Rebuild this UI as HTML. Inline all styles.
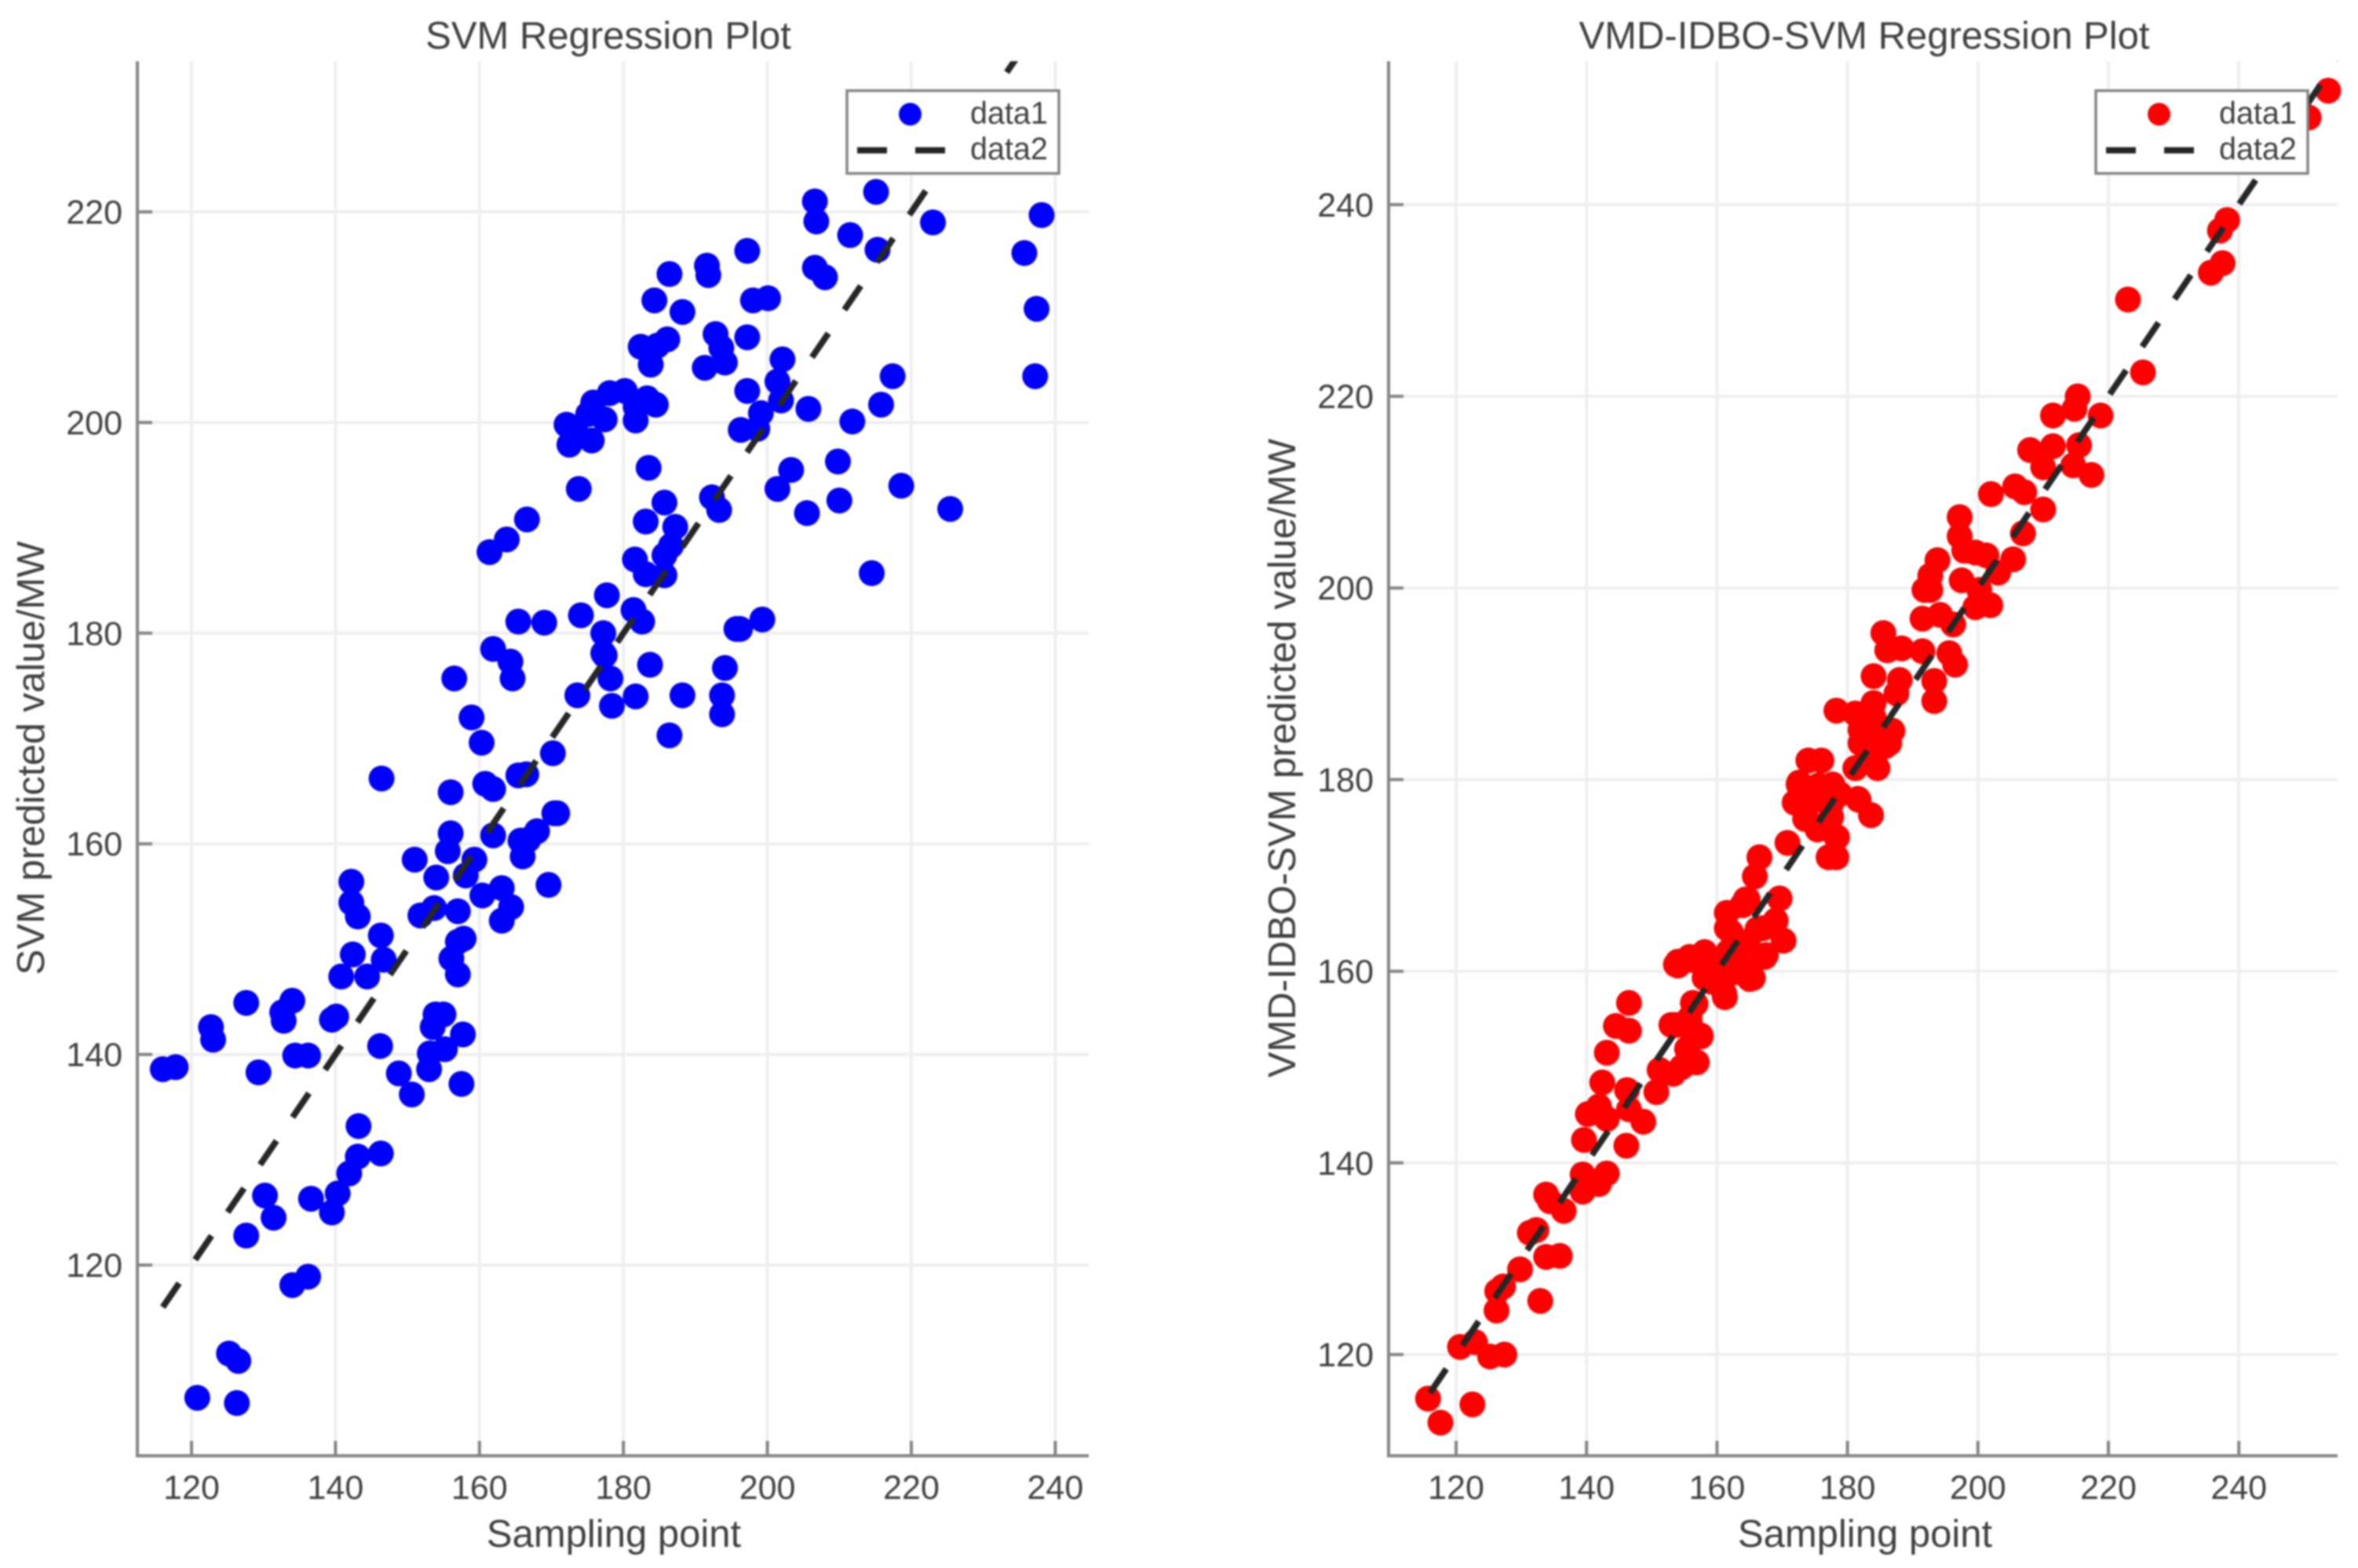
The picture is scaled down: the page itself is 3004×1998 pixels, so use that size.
<!DOCTYPE html>
<html lang="en">
<head>
<meta charset="utf-8">
<title>SVM and VMD-IDBO-SVM Regression Plots</title>
<style>
html,body{margin:0;padding:0;background:#fff;width:3004px;height:1998px;overflow:hidden}
svg{display:block;font-family:"Liberation Sans",Arial,sans-serif;filter:blur(1px)}
text{fill:#404040}
</style>
</head>
<body>
<svg id="figure" xmlns="http://www.w3.org/2000/svg" width="3004" height="1998" viewBox="0 0 3004 1998">
<defs>
<clipPath id="clip-left"><rect x="175" y="78" width="1212" height="1777"/></clipPath>
<clipPath id="clip-right"><rect x="1769" y="78" width="1209" height="1777"/></clipPath>
</defs>
<rect width="3004" height="1998" fill="#fff"/>
<g id="panel-left"></g>
<g id="panel-right"></g>
</svg>
<script>
const svmX = [206.6,206.8,215.1,223,238.1,211.5,215.3,235.7,197.2,206.6,208,191.6,191.8,186.4,184.3,188.2,198,200.1,237.4,182.4,186.1,184.7,183.8,192.8,193.6,194.1,191.3,197.2,202.1,201.4,201.9,217.4,237.2,197.2,180.2,178.1,175.8,175.1,177.4,181.7,181.7,183.3,184.5,172.1,173.3,172.5,175.6,199.1,196.3,198.6,205.7,211.8,215.8,183.5,203.3,209.8,173.8,201.4,218.6,185.7,192.3,193.3,210,205.5,225.4,183.1,187.2,166.6,163.8,161.4,186.6,185.7,185.7,181.6,183.1,214.5,177.7,181.4,182.6,174.1,165.4,169,177.2,199.3,195.7,196.2,161.9,164.3,164.6,156.5,177.2,177.4,178.2,183.7,194.1,173.6,181.7,188.2,193.7,193.7,178.4,158.9,160.3,186.4,170.2,146.4,156,161.9,160.8,165.4,166.5,156,155.6,161.9,151,159.3,158.1,154,170.4,170.8,168,165.7,166.8,166,169.6,142.2,142.2,143.1,160.4,163.1,164.4,163.1,153.7,151.8,157,146.3,157.8,157,142.4,146.7,156.1,140.8,144.4,157,127.6,134,132.6,132.8,122.7,123,140.1,139.5,153.9,155,153.5,157.7,146.2,153.1,155.2,134.4,136.2,116,117.8,129.3,148.8,153,150.6,157.5,143.2,143.1,146.3,141.9,130.2,136.6,140.3,139.5,131.4,127.6,134,136.2,125.2,126.5,120.8,126.3];
const svmY = [221,219.1,221.9,219,219.7,217.8,216.4,216.1,216.3,214.7,213.8,214.9,214,214.1,211.6,210.5,211.6,211.8,210.8,207.2,207.9,207.3,205.5,208.4,207.1,205.7,205.2,208.1,206,203.9,202.1,204.4,204.4,203,203,202.8,201.9,200.8,200.3,201.5,200.2,202.3,201.7,199.8,199.3,197.9,198.3,200.9,199.3,199.4,201.3,200.1,201.7,195.7,195.5,196.3,193.7,193.7,194,192.4,192.9,191.7,192.6,191.4,191.8,190.6,190.1,190.8,188.9,187.7,188.3,187.4,185.5,187,185.6,185.7,183.6,182.2,181.1,181.7,181.1,181,180,181.3,180.4,180.4,178.5,177.3,175.7,175.7,178.1,177.9,175.7,177,176.7,174.1,174,174.1,174.1,172.3,173.1,172,169.6,170.3,168.6,166.2,164.9,165.2,165.7,166.5,166.6,161,159.3,160.8,158.5,158.5,157,156.8,162.9,162.9,161.2,160.3,160.4,158.8,156.1,156.4,154.4,153.1,155.1,155.8,154,152.7,153.9,153.2,153.6,151.3,151,150.7,149.5,149,149.1,147.4,147.4,147.6,144.9,145.1,144,143.2,142.6,141.4,143.6,143.3,143.8,143.8,142.6,141.9,140.8,140.1,140.5,139.9,139.9,138.6,138.8,138.3,138.2,138.6,136.2,137.2,133.2,130.3,130.6,128.7,126.6,126.3,126.8,125,124.5,122.8,118.1,118.9,111.6,110.9,107.4,106.9];
const hybridX = [253.7,250.7,238.2,237.1,237.5,235.7,223,225.3,215.3,214.8,211.5,218.8,215.5,208,211.5,210,214.6,217.4,205.7,207.1,202,210,197.2,206.9,197.2,197.9,201.3,199.6,205.4,193.8,192.7,203.1,197.5,192.7,191.8,200.2,201.9,199.6,191.5,194.2,196.2,185.5,186.1,188.3,191.5,195.6,196.5,193.3,193.3,184,188,187.5,178.3,181.2,184,182.3,186.9,184.6,182.9,185.8,174,176,184.6,181.2,172.5,177.7,181.7,183.6,172.2,176,178.8,173.7,175.4,178.3,177.1,178.3,170.8,166.5,165.8,169.6,164.4,169,161.5,170.2,162.1,166.2,162.7,167.3,158.1,154,153.7,155.8,165,158.1,160.4,162.7,159.2,161.2,164.1,154,146.5,156.7,155.8,144.5,146.5,153,155.8,157.5,143.1,155.4,156.9,154.6,151.2,153.3,142.4,146.2,150.7,141.9,140.2,143.1,146.5,148.7,139.6,146.1,139.4,143.1,141.9,139.4,133.8,134.4,136.5,132.3,131.3,135.9,133.8,129.8,132.9,127.2,126.3,126.2,120.6,122.9,125.2,127.4,115.7,117.6,122.5,182,185.6,182.8,182,186.4,184.8,182.8,184,183.2,172.6,177.8,175.6,171.9,174.4,177.5,173.5,175.6,177.5,178.4,181.6,183.6,163.9,161.5,167.1,164.7,161.7,163.1,158.7,161.1,156.3,158.1,155.9,157.9,155.9,153.7,157.5,164.7,167.5,165.5];
const hybridY = [251.9,249.1,238.4,237.3,233.9,232.9,230.1,222.5,220,218.7,218,218,214.9,214.4,214.8,212.6,212.8,211.8,210.6,210,209.8,208.2,207.4,205.7,205.4,203.9,203.4,203.7,203,202.9,201.3,201.6,200.8,199.8,199.8,199.8,198.2,198,196.8,197.2,196.2,195.3,193.5,193.7,193.4,193.2,192,190.3,188.2,190.8,190.4,189,187.2,186.9,188,185.6,185.1,184.6,183.5,183.5,182,182,181.2,181.2,179.5,179.5,177.9,176.3,177.6,177.9,178.5,175.9,174.8,174,171.9,171.9,173.4,171.9,169.9,167.6,167.5,165.3,166.1,163.2,164.1,164.4,162.3,161.5,162,161,160.7,161.5,159.2,160.2,160.2,159.9,158.9,157.3,160.7,160.6,156.7,156.6,155.1,154.3,153.8,154.4,154,153.2,151.5,151.9,150.5,150,149.7,149.3,148.4,147.6,147.4,145.9,145.1,144.6,145.6,144.3,142.4,141.8,138.8,138.9,137.8,137,136.7,136,135,133,132.7,130.3,130.2,128.9,125.6,127.1,126.6,124.6,120.8,121.3,119.8,120,115.4,112.9,114.8,185.2,185.2,186,183.8,183.8,183.3,184.3,186.5,181.9,179.7,179.2,179.4,177.6,177.8,177.5,175.9,175.1,176.1,174,178,176.3,166.9,164.5,164.5,163.1,162,160.1,159.8,157.7,156.7,159.3,161.2,161.7,154.4,154.4,153.3,167.5,161.7,159.3];
const svmXTicks = [120,140,160,180,200,220,240];
const svmYTicks = [120,140,160,180,200,220];
const hybridXTicks = [120,140,160,180,200,220,240];
const hybridYTicks = [120,140,160,180,200,220,240];
const referenceLine = [116,255];
const legendLabels = ['data1','data2'];

const NS = 'http://www.w3.org/2000/svg';
const TOP = 78, BOTTOM = 1855;
const AXIS = '#858585', GRID = '#efefef', DASH = '#262626';

function make(parent, tag, props, text) {
  const el = document.createElementNS(NS, tag);
  for (const k in props) el.setAttribute(k, props[k]);
  if (text !== undefined) el.textContent = text;
  parent.appendChild(el);
  return el;
}

function drawPanel(c) {
  const root = document.getElementById(c.id);
  const sx = v => c.x0 + (v - 120) * c.kx;
  const sy = v => c.y120 - (v - 120) * c.ky;

  c.yTicks.forEach(v => {
    const g = make(root, 'line', {x1: c.left, x2: c.right, y1: sy(v), y2: sy(v), stroke: GRID, 'stroke-width': 4});
    
    
  });
  c.xTicks.forEach(v => {
    const g = make(root, 'line', {x1: sx(v), x2: sx(v), y1: TOP, y2: BOTTOM, stroke: GRID, 'stroke-width': 4});
    
    
  });

  c.px.forEach((v, i) => {
    const p = make(root, 'circle', {cx: sx(v), cy: sy(c.py[i]), r: 16.5, fill: c.color});
    
    
  });

  const fit = make(root, 'line', {
    x1: sx(referenceLine[0]), y1: sy(referenceLine[0]),
    x2: sx(referenceLine[1]), y2: sy(referenceLine[1]),
    stroke: DASH, 'stroke-width': 8, 'stroke-dasharray': '37 36.3',
    'clip-path': 'url(#' + c.clip + ')'
  });
  
  

  const xAxis = make(root, 'line', {x1: c.left - 2, x2: c.right, y1: BOTTOM, y2: BOTTOM, stroke: AXIS, 'stroke-width': 4});
  
  
  const yAxis = make(root, 'line', {x1: c.left, x2: c.left, y1: TOP, y2: BOTTOM, stroke: AXIS, 'stroke-width': 4});
  
  

  c.xTicks.forEach(v => {
    const t = make(root, 'line', {x1: sx(v), x2: sx(v), y1: BOTTOM, y2: BOTTOM - 19, stroke: AXIS, 'stroke-width': 4});
    
    
    const l = make(root, 'text', {x: sx(v), y: 1910, 'font-size': 43, 'text-anchor': 'middle'}, String(v));
    
    
  });
  c.yTicks.forEach(v => {
    const t = make(root, 'line', {x1: c.left, x2: c.left + 19, y1: sy(v), y2: sy(v), stroke: AXIS, 'stroke-width': 4});
    
    
    const l = make(root, 'text', {x: c.left - 19, y: sy(v) + 15, 'font-size': 43, 'text-anchor': 'end'}, String(v));
    
    
  });

  const title = make(root, 'text', {x: c.titleX, y: 62, 'font-size': 49, 'text-anchor': 'middle'}, c.title);
  
  
  const xTitle = make(root, 'text', {x: c.titleX + c.xTitleShift, y: 1971, 'font-size': 49, 'text-anchor': 'middle'}, 'Sampling point');
  
  
  const yTitle = make(root, 'text', {'font-size': 49, 'text-anchor': 'middle', transform: 'translate(' + c.yTitleX + ',966) rotate(-90)'}, c.yTitle);
  
  

  const legend = make(root, 'g', {});
  
  
  const box = make(legend, 'rect', {x: c.legendX, y: 115.5, width: 270, height: 105.5, fill: '#fff', stroke: '#858585', 'stroke-width': 3.5});
  
  
  const key = make(legend, 'circle', {cx: c.legendX + 80.5, cy: 145.5, r: 14.5, fill: c.color});
  
  
  const dash = make(legend, 'line', {x1: c.legendX + 13, x2: c.legendX + 125, y1: 191.5, y2: 191.5, stroke: DASH, 'stroke-width': 8, 'stroke-dasharray': '38 36'});
  
  
  legendLabels.forEach((s, i) => {
    const t = make(legend, 'text', {x: c.legendX + 157, y: 157.5 + i * 45.5, 'font-size': 39.5}, s);
    
    
  });
}

drawPanel({
  id: 'panel-left', clip: 'clip-left', color: '#0000ff',
  px: svmX, py: svmY, xTicks: svmXTicks, yTicks: svmYTicks,
  left: 175, right: 1387, x0: 244, kx: 9.17, y120: 1612, ky: 13.42,
  title: 'SVM Regression Plot', titleX: 775, xTitleShift: 7,
  yTitle: 'SVM predicted value/MW', yTitleX: 56, legendX: 1079
});
drawPanel({
  id: 'panel-right', clip: 'clip-right', color: '#ff0000',
  px: hybridX, py: hybridY, xTicks: hybridXTicks, yTicks: hybridYTicks,
  left: 1769, right: 2978, x0: 1855, kx: 8.31, y120: 1726, ky: 12.21,
  title: 'VMD-IDBO-SVM Regression Plot', titleX: 2375, xTitleShift: 1,
  yTitle: 'VMD-IDBO-SVM predicted value/MW', yTitleX: 1650, legendX: 2670
});
</script>
</body>
</html>
